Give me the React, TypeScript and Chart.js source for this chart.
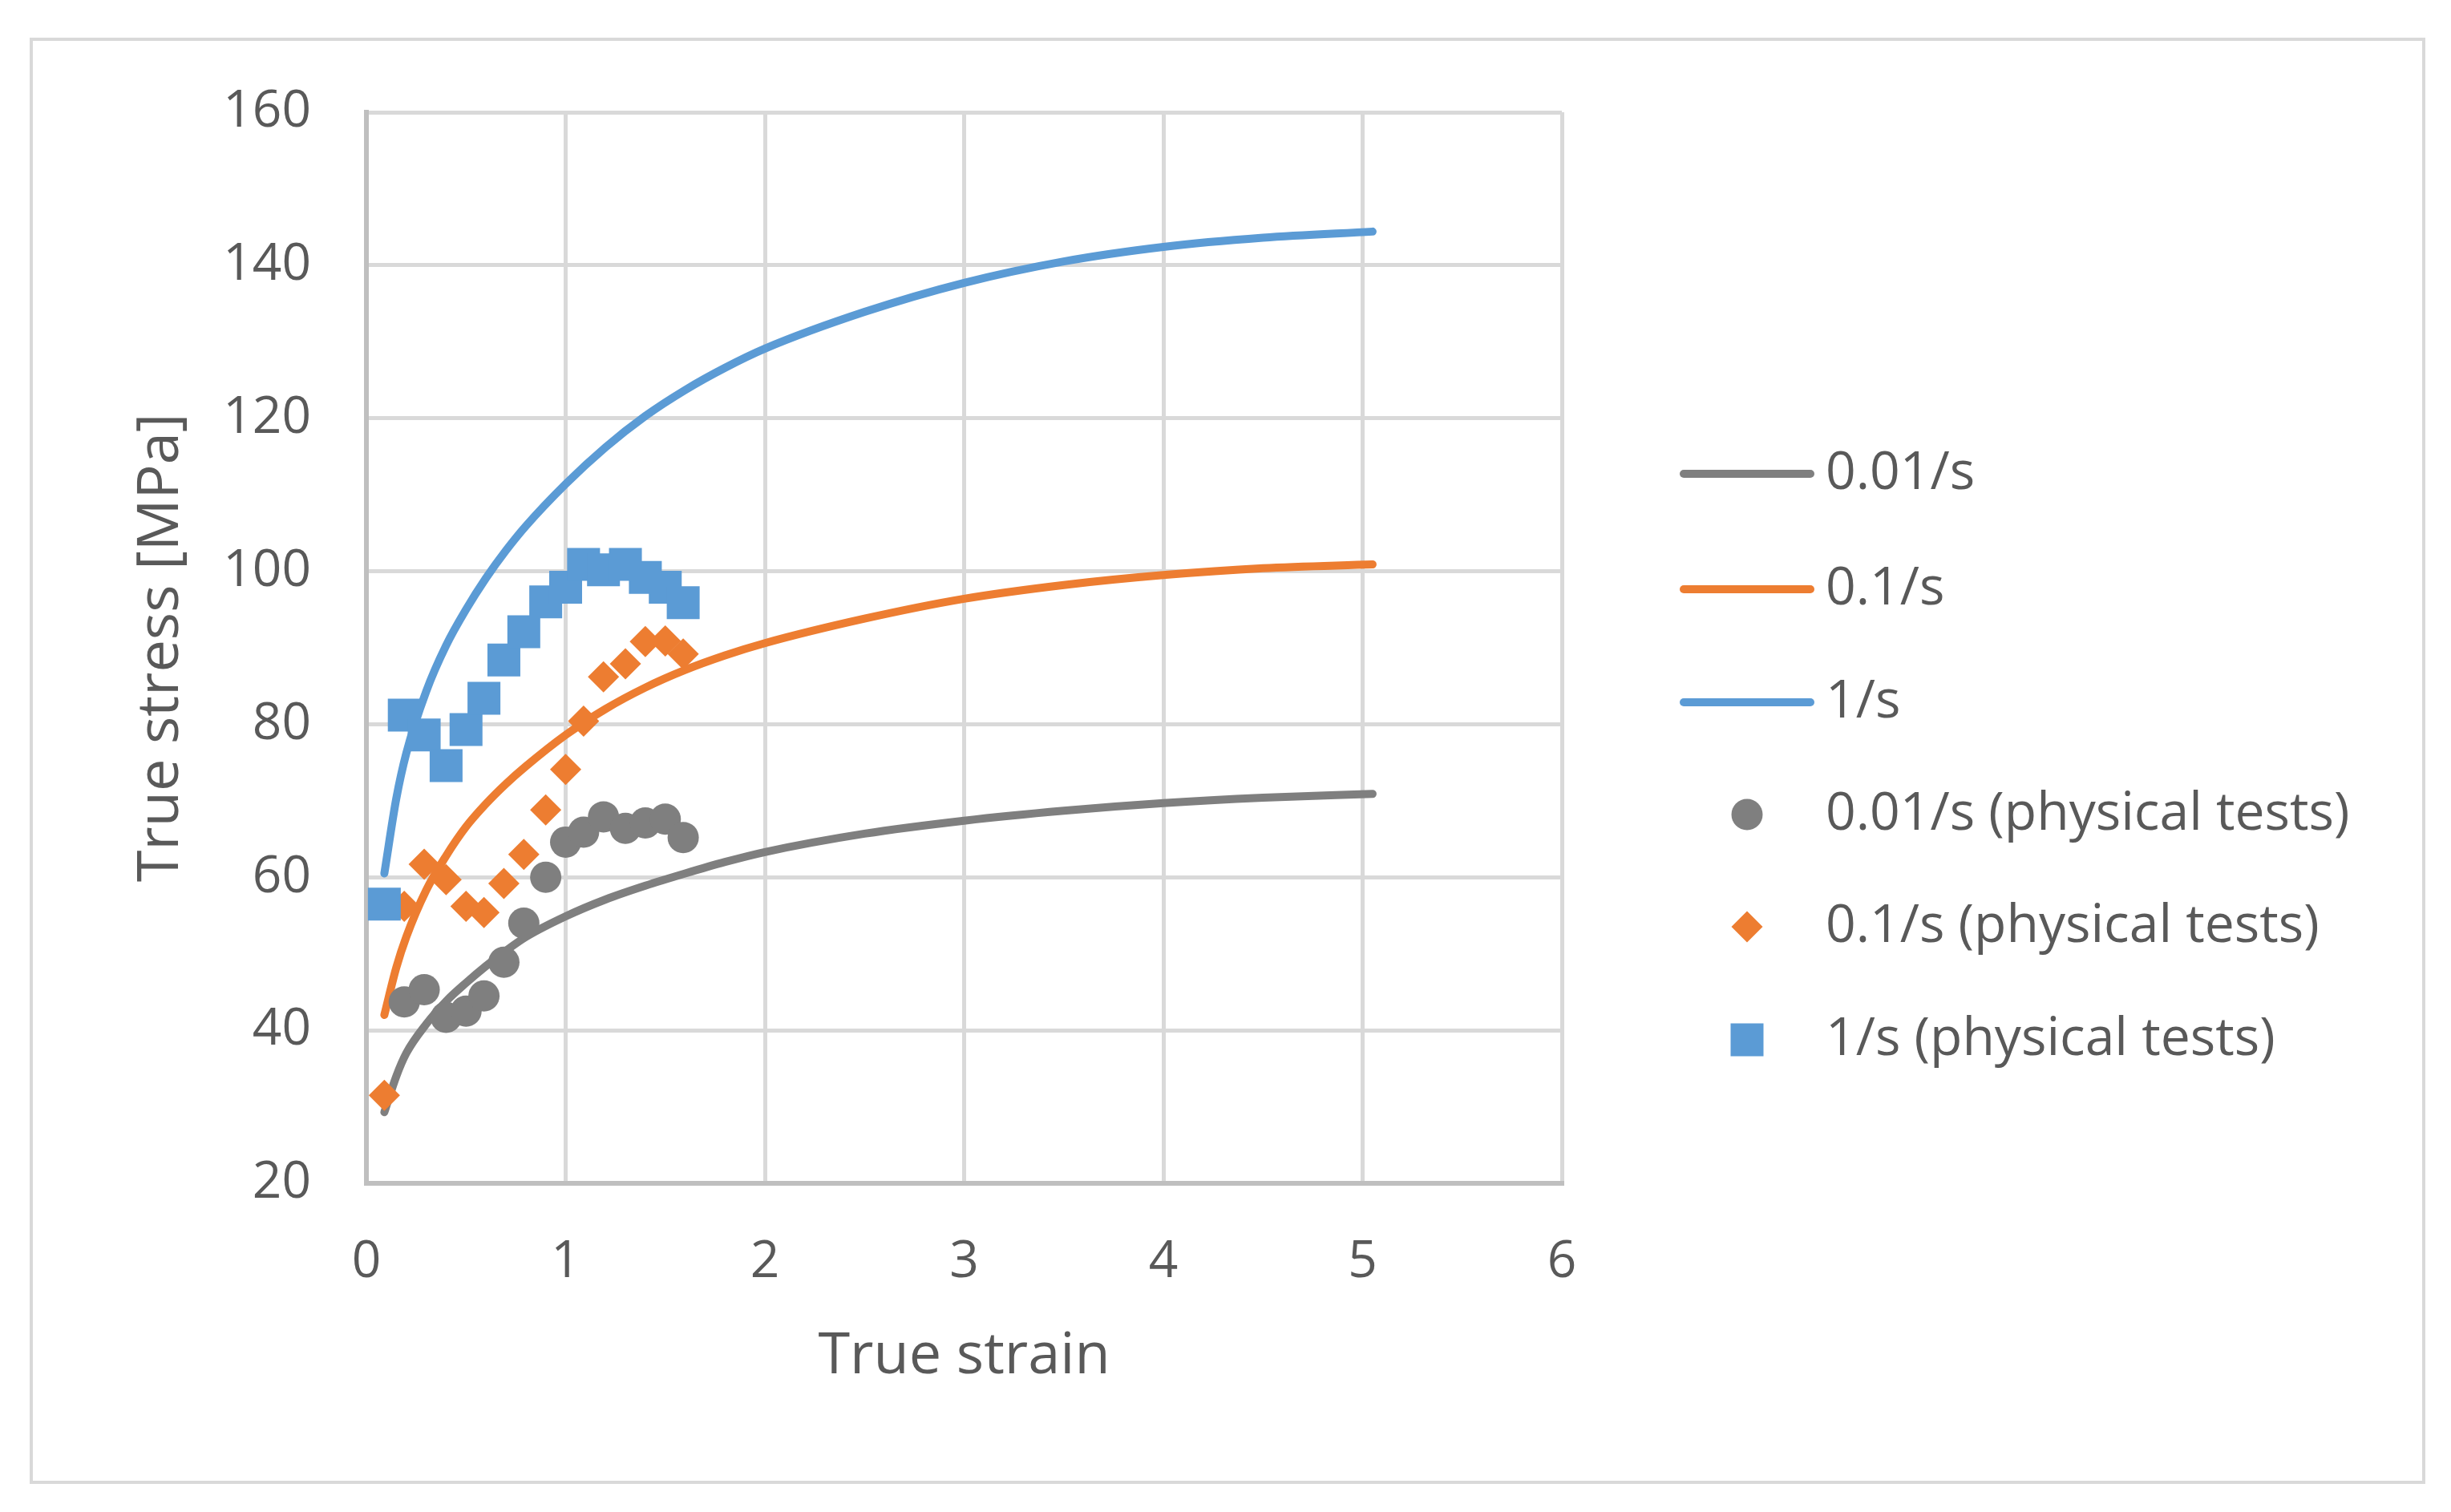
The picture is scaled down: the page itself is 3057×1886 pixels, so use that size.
import React, { useEffect, useRef } from "react";
import { Chart, registerables } from "chart.js";

Chart.register(...registerables);

// ---- data ----
const curveStrain = [0.09, 0.15, 0.2, 0.3, 0.4, 0.5, 0.6, 0.7, 0.8, 1.0, 1.2, 1.4, 1.6, 1.8, 2.0, 2.5, 3.0, 3.5, 4.0, 4.5, 5.05];
const curve001 = [29.3, 34.0, 37.0, 40.8, 43.8, 46.2, 48.4, 50.4, 52.2, 54.9, 57.1, 58.9, 60.5, 62.0, 63.3, 65.7, 67.4, 68.7, 69.7, 70.4, 70.9];
const curve01 = [42.0, 48.2, 52.2, 58.3, 62.8, 66.6, 69.6, 72.2, 74.5, 78.6, 82.0, 84.8, 87.1, 89.0, 90.6, 93.8, 96.4, 98.2, 99.5, 100.4, 100.9];
const curve1 = [60.5, 70.3, 76.2, 84.3, 90.3, 95.0, 99.1, 102.7, 105.9, 111.4, 116.2, 120.3, 123.7, 126.6, 129.1, 133.9, 137.7, 140.5, 142.4, 143.6, 144.4];

const testStrain = [0.09, 0.19, 0.29, 0.4, 0.5, 0.59, 0.69, 0.79, 0.9, 1.0, 1.09, 1.19, 1.3, 1.4, 1.5, 1.59];
const test001 = [null, 43.7, 45.3, 41.7, 42.5, 44.5, 48.9, 54.0, 60.0, 64.6, 65.9, 67.9, 66.4, 67.1, 67.6, 65.2];
const test01 = [31.5, 56.2, 61.7, 59.7, 56.2, 55.4, 59.2, 63.0, 68.8, 74.1, 80.4, 86.2, 87.9, 90.8, 90.9, 89.2];
const test1 = [56.5, 81.2, 78.6, 74.6, 79.3, 83.4, 88.4, 92.1, 96.0, 97.9, 100.9, 100.2, 100.9, 99.2, 97.9, 95.9];

const seriesLabels = [
  "0.01/s",
  "0.1/s",
  "1/s",
  "0.01/s (physical tests)",
  "0.1/s (physical tests)",
  "1/s (physical tests)",
];
const xAxisTitle = "True strain";
const yAxisTitle = "True stress [MPa]";

// ---- style ----
const FONT = "'Open Sans', 'Noto Sans', 'DejaVu Sans', sans-serif";
const TEXT = "#595959";
const GRAY = "#7f7f7f";
const ORANGE = "#ed7d31";
const BLUE = "#5b9bd5";
const GRID = "#d9d9d9";

const toPoints = (xs: number[], ys: (number | null)[]) =>
  xs
    .map((x, i) => ({ x, y: ys[i] }))
    .filter((p) => p.y !== null) as { x: number; y: number }[];

const legendRows = [591, 735, 876, 1016, 1156, 1297];

function drawMarker(ctx: CanvasRenderingContext2D, style: string, r: number, x: number, y: number) {
  ctx.beginPath();
  if (style === "circle") {
    ctx.arc(x, y, r, 0, Math.PI * 2);
  } else if (style === "rectRot") {
    ctx.moveTo(x - r, y);
    ctx.lineTo(x, y - r);
    ctx.lineTo(x + r, y);
    ctx.lineTo(x, y + r);
    ctx.closePath();
  } else {
    const s = r * Math.SQRT1_2;
    ctx.rect(x - s, y - s, 2 * s, 2 * s);
  }
  ctx.fill();
}

const framePlugin = {
  id: "frameAndLegend",
  beforeDraw(chart: any) {
    const ctx = chart.ctx as CanvasRenderingContext2D;
    ctx.save();
    ctx.fillStyle = "#ffffff";
    ctx.fillRect(0, 0, chart.width, chart.height);
    ctx.strokeStyle = GRID;
    ctx.lineWidth = 4;
    ctx.strokeRect(39, 49, 2984, 1800);
    ctx.restore();
  },
  afterDraw(chart: any) {
    const ctx = chart.ctx as CanvasRenderingContext2D;
    chart.data.datasets.forEach((ds: any, i: number) => {
      const y = legendRows[i];
      ctx.save();
      if (ds.showLine) {
        ctx.strokeStyle = ds.borderColor;
        ctx.lineWidth = 10;
        ctx.lineCap = "round";
        ctx.beginPath();
        ctx.moveTo(2100, y);
        ctx.lineTo(2258, y);
        ctx.stroke();
      } else {
        ctx.fillStyle = ds.pointBackgroundColor;
        drawMarker(ctx, ds.pointStyle, ds.pointRadius, 2179, y);
      }
      ctx.fillStyle = TEXT;
      ctx.font = `66px ${FONT}`;
      ctx.textAlign = "left";
      ctx.textBaseline = "middle";
      ctx.fillText(ds.label, 2277, y);
      ctx.restore();
    });
  },
};

export default function App() {
  const canvasRef = useRef<HTMLCanvasElement | null>(null);

  useEffect(() => {
    document.body.style.margin = "0";
    const canvas = canvasRef.current;
    if (!canvas) return;

    const lineDs = (label: string, ys: number[], color: string, order: number) => ({
      label,
      data: toPoints(curveStrain, ys),
      showLine: true,
      borderColor: color,
      backgroundColor: color,
      borderWidth: 10,
      borderCapStyle: "round",
      borderJoinStyle: "round",
      pointRadius: 0,
      pointHoverRadius: 0,
      cubicInterpolationMode: "monotone",
      order,
    });
    const markDs = (label: string, ys: (number | null)[], color: string, style: string, r: number, order: number) => ({
      label,
      data: toPoints(testStrain, ys),
      showLine: false,
      borderColor: color,
      backgroundColor: color,
      pointBackgroundColor: color,
      pointBorderWidth: 0,
      pointStyle: style,
      pointRadius: r,
      pointHoverRadius: r,
      order,
    });

    const chart = new Chart(canvas, {
      type: "scatter",
      data: {
        datasets: [
          lineDs(seriesLabels[0], curve001, GRAY, 5),
          lineDs(seriesLabels[1], curve01, ORANGE, 4),
          lineDs(seriesLabels[2], curve1, BLUE, 3),
          markDs(seriesLabels[3], test001, GRAY, "circle", 19.5, 2),
          markDs(seriesLabels[4], test01, ORANGE, "rectRot", 19.5, 1),
          markDs(seriesLabels[5], test1, BLUE, "rect", 29, 0),
        ] as any,
      },
      options: {
        responsive: false,
        animation: false,
        events: [],
        layout: { padding: { left: 0, top: 140, right: 1109, bottom: 0 } },
        plugins: {
          legend: { display: false },
          tooltip: { enabled: false },
          title: { display: false },
        },
        scales: {
          x: {
            type: "linear",
            min: 0,
            max: 6,
            ticks: {
              stepSize: 1,
              color: TEXT,
              font: { family: FONT, size: 64 },
              padding: 60,
            },
            grid: { color: GRID, lineWidth: 5, drawTicks: false },
            border: { display: true, color: "#bfbfbf", width: 6 },
            title: {
              display: true,
              text: xAxisTitle,
              color: TEXT,
              font: { family: FONT, size: 72 },
              padding: { top: 0, bottom: 150 },
            },
            afterFit: (s: any) => {
              s.height = 410;
            },
          },
          y: {
            type: "linear",
            min: 20,
            max: 160,
            ticks: {
              stepSize: 20,
              color: TEXT,
              font: { family: FONT, size: 64 },
              padding: 69,
            },
            grid: { color: GRID, lineWidth: 5, drawTicks: false },
            border: { display: true, color: "#bfbfbf", width: 6 },
            title: {
              display: true,
              text: yAxisTitle,
              color: TEXT,
              font: { family: FONT, size: 72 },
              padding: { top: 158, bottom: 0 },
            },
            afterFit: (s: any) => {
              s.width = 457;
            },
          },
        },
      } as any,
      plugins: [framePlugin],
    });

    return () => {
      chart.destroy();
    };
  }, []);

  return (
    <div style={{ width: 3057, height: 1886, position: "relative", background: "#fff" }}>
      <canvas ref={canvasRef} width={3057} height={1886} style={{ display: "block" }} />
    </div>
  );
}
